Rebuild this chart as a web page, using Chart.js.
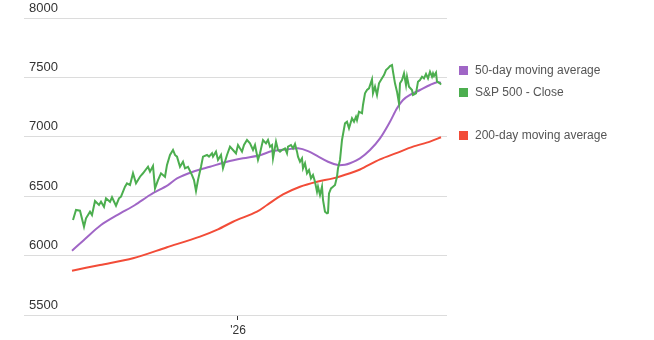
<!DOCTYPE html>
<html>
<head>
<meta charset="utf-8">
<script src="https://cdn.jsdelivr.net/npm/chart.js@4/dist/chart.umd.min.js"></script>
<style>
  html, body { margin: 0; padding: 0; background: #fff; }
  #wrap { width: 654px; height: 340px; position: relative; }
</style>
</head>
<body>
<div id="wrap"><canvas id="c" width="654" height="340"></canvas></div>
<script>
// Day offsets relative to 1 Jan 2026 ('26 tick), values in index points
const closeDays = [-165,-162,-158,-154,-152,-148,-146,-143,-139,-137,-134,-132,-128,-126,-122,-119,-117,-113,-111,-108,-105,-102,-98,-95,-90,-88,-85,-83,-80,-77,-73,-71,
  -68,-65,-63,-61,-58,-55,-53,-50,-46,-44,-42,-40,-37,-35,-31,-29,-26,-25,-22,-20,-17,-15,-11,-8,-5,-2,0,4,6,9,12,15,17,20,22,
  25,28,30,32,34,35,38,40,42,44,47,49,50,53,55,57,59,60,62,64,65,67,69,71,73,75,77,79,80,82,84,85,87,89,90,91,93,95,97,99,
  100,102,104,107,109,111,114,116,118,119,121,124,125,127,129,131,134,135,137,139,141,144,146,148,150,152,154,155,157,159,
  161,162,164,166,168,169,171,174,175,178,180,182,184,186,188,190,192,194,195,196,198,199,202,203];
const closeValues = [6300,6384,6378,6243,6314,6370,6342,6459,6426,6453,6411,6482,6453,6491,6420,6482,6496,6580,6608,6594,6693,6608,6664,6693,6748,6706,6754,6566,6636,6693,6664,6763,
  6847,6889,6847,6833,6748,6790,6735,6748,6678,6636,6544,6636,6748,6833,6847,6833,6861,6833,6875,6805,6847,6735,6847,6917,6889,6861,6931,6875,6931,6973,6945,6889,6931,6805,6861,
  6973,6945,6973,6917,6931,6819,6959,6889,6875,6889,6903,6861,6917,6931,6903,6939,6875,6833,6790,6819,6735,6777,6693,6720,6650,6678,6622,6538,6580,6510,6580,6468,6370,6356,6360,6524,6566,6580,6594,
  6664,6735,6805,6973,7113,7127,7071,7156,7127,7169,7141,7211,7198,7268,7366,7394,7408,7484,7366,7422,7352,7450,7492,7520,7562,7576,7596,7604,7548,7450,
  7380,7282,7450,7478,7534,7436,7506,7422,7394,7352,7366,7464,7478,7506,7492,7529,7492,7548,7506,7534,7512,7540,7464,7450,7440];

const ma50Days = [-166,-153,-137,-120,-103,-88,-70,-61,-45,-28,-11,5,22,34,50,60,70,80,90,100,107,112,122,132,142,152,159,165,172,182,192,199,203];
const ma50Values = [6041,6140,6257,6345,6426,6510,6594,6650,6706,6748,6790,6819,6845,6880,6895,6903,6880,6835,6790,6762,6765,6777,6819,6889,6987,7127,7240,7310,7352,7394,7436,7460,7455];

const ma200Days = [-166,-138,-105,-71,-38,-20,-5,19,29,45,62,79,95,112,122,142,159,175,192,203];
const ma200Values = [5873,5921,5977,6070,6160,6221,6285,6370,6426,6515,6580,6622,6650,6693,6725,6810,6865,6917,6959,6996];

const seriesNames = ['50-day moving average', 'S&P 500 - Close', '200-day moving average'];
const seriesColors = ['#a066c6', '#4cae4f', '#f24c38'];
const yTicks = [5500, 6000, 6500, 7000, 7500, 8000];
const xTickDays = [0];
const xTickLabels = ["'26"];

const pts = (xs, ys) => xs.map((x, i) => ({ x: x, y: ys[i] }));

const endLabels = {
  id: 'endLabels',
  afterDraw(chart) {
    const ctx = chart.ctx;
    const ys = chart.scales.y;
    const items = chart.data.datasets.map((ds, i) => {
      const last = ds.data[ds.data.length - 1];
      return { name: ds.label, color: ds.borderColor, y: ys.getPixelForValue(last.y) - 2, rank: ds.legendRank };
    });
    items.sort((a, b) => (a.y - b.y) || (a.rank - b.rank));
    const gap = 22;
    let clusters = items.map(it => ({ items: [it], center: it.y }));
    let changed = true;
    while (changed) {
      changed = false;
      for (let i = 0; i < clusters.length - 1; i++) {
        const a = clusters[i], b = clusters[i + 1];
        const aBottom = a.center + (a.items.length - 1) * gap / 2;
        const bTop = b.center - (b.items.length - 1) * gap / 2;
        if (bTop - aBottom < gap) {
          const merged = a.items.concat(b.items);
          const c = merged.reduce((s, it) => s + it.y, 0) / merged.length;
          clusters.splice(i, 2, { items: merged, center: c });
          changed = true;
          break;
        }
      }
    }
    ctx.save();
    ctx.font = '12px "Liberation Sans", Arial, sans-serif';
    ctx.textBaseline = 'middle';
    ctx.textAlign = 'left';
    clusters.forEach(cl => {
      const n = cl.items.length;
      cl.items.forEach((it, k) => {
        const y = cl.center + (k - (n - 1) / 2) * gap;
        ctx.fillStyle = it.color;
        ctx.fillRect(459, Math.round(y - 4.5), 9, 9);
        ctx.fillStyle = '#555';
        ctx.fillText(it.name, 475, y);
      });
    });
    ctx.restore();
  }
};

new Chart(document.getElementById('c'), {
  type: 'line',
  data: {
    datasets: [
      { label: seriesNames[1], data: pts(closeDays, closeValues), borderColor: seriesColors[1], backgroundColor: seriesColors[1], borderWidth: 2, pointRadius: 0, tension: 0, order: 0, legendRank: 1 },
      { label: seriesNames[0], data: pts(ma50Days, ma50Values), borderColor: seriesColors[0], backgroundColor: seriesColors[0], borderWidth: 2, pointRadius: 0, tension: 0.3, order: 1, legendRank: 0 },
      { label: seriesNames[2], data: pts(ma200Days, ma200Values), borderColor: seriesColors[2], backgroundColor: seriesColors[2], borderWidth: 2, pointRadius: 0, tension: 0.3, order: 2, legendRank: 2 }
    ]
  },
  options: {
    responsive: false,
    animation: false,
    events: [],
    layout: { padding: { left: 24, right: 207, top: 18, bottom: 0 } },
    plugins: { legend: { display: false }, tooltip: { enabled: false } },
    scales: {
      x: {
        type: 'linear',
        min: -214,
        max: 209,
        afterBuildTicks: (s) => { s.ticks = xTickDays.map(v => ({ value: v })); },
        afterFit: (s) => { s.height = 25; },
        border: { display: false },
        grid: { display: true, drawOnChartArea: false, drawTicks: true, tickLength: 5, color: '#333', tickWidth: 1 },
        ticks: {
          padding: 3,
          maxRotation: 0,
          color: '#333',
          font: { family: '"Liberation Sans", Arial, sans-serif', size: 12 },
          callback: (v) => { const i = xTickDays.indexOf(v); return i >= 0 ? xTickLabels[i] : ''; }
        }
      },
      y: {
        type: 'linear',
        min: 5500,
        max: 8000,
        afterBuildTicks: (s) => { s.ticks = yTicks.map(v => ({ value: v })); },
        afterFit: (s) => { s.width = 0; },
        border: { display: false },
        grid: { color: '#dcdcdc', lineWidth: 1, drawTicks: false },
        ticks: {
          mirror: true,
          padding: 5,
          labelOffset: -10,
          color: '#333',
          font: { family: '"Liberation Sans", Arial, sans-serif', size: 13 },
          callback: (v) => String(v)
        }
      }
    }
  },
  plugins: [endLabels]
});
</script>
</body>
</html>
